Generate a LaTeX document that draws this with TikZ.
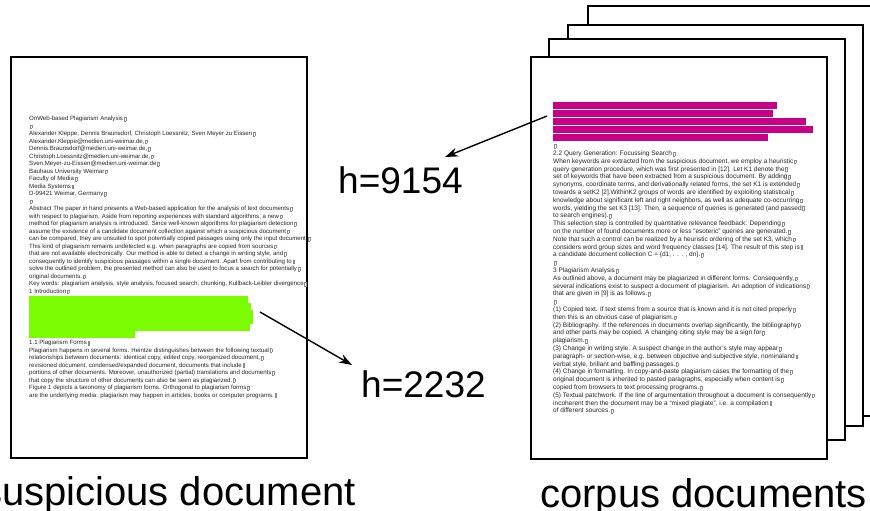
\documentclass[tikz,border=0pt]{standalone}
\usepackage{fontspec}
\setmainfont{Liberation Sans}
\usepackage{xcolor}
\usepackage{tikz}
\usetikzlibrary{arrows.meta,positioning}
\definecolor{hlgreen}{RGB}{124,252,0}
\definecolor{hlmagenta}{RGB}{200,0,135}
\newcommand\eolmark{\hspace{0.12em}{\color{black!45}\setlength\fboxsep{0pt}\setlength\fboxrule{0.25pt}\fbox{\rule{0pt}{3.4pt}\rule{1.6pt}{0pt}}}}
\tikzset{
  sheet/.style    = {draw, line width=1.8pt, fill=white},
  bodytext/.style = {anchor=north west, inner sep=0pt, align=left, text=black!85},
  suspfont/.style = {font=\fontsize{6.1}{7.5}\selectfont},
  corpfont/.style = {font=\fontsize{6.5}{7.8}\selectfont},
  pointer/.style  = {-{Stealth[length=13pt,width=9pt]}, line width=1.4pt},
  hlabel/.style   = {inner sep=0pt, font=\fontsize{37}{37}\selectfont},
  doclabel/.style = {inner sep=0pt, font=\fontsize{40}{40}\selectfont},
}

\begin{document}
\begin{tikzpicture}[x=1pt, y=-1pt]
  \clip (0,0) rectangle (870,511);
  % corpus stack, back to front
  \draw[sheet] (588,6) rectangle (900,416);
  \draw[sheet] (568,25) rectangle (863,426);
  \draw[sheet] (549,39) rectangle (845,440);
  \draw[sheet] (531,57) rectangle (827,459);
  % suspicious page
  \draw[sheet] (11,57) rectangle (307,458);

  \node[bodytext, suspfont] (susptop) at (29,116.1) {%
OnWeb-based Plagiarism Analysis\eolmark\\
\eolmark\\
Alexander Kleppe, Dennis Braunsdorf, Christoph Loessnitz, Sven Meyer zu Eissen\eolmark\\
Alexander.Kleppe@medien.uni-weimar.de,\eolmark\\
Dennis.Braunsdorf@medien.uni-weimar.de,\eolmark\\
Christoph.Loessnitz@medien.uni-weimar.de,\eolmark\\
Sven.Meyer-zu-Eissen@medien.uni-weimar.de\eolmark\\
Bauhaus University Weimar\eolmark\\
Faculty of Media\eolmark\\
Media Systems\eolmark\\
D-99421 Weimar, Germany\eolmark\\
\eolmark\\
Abstract The paper in hand presents a Web-based application for the analysis of text documents\eolmark\\
with respect to plagiarism. Aside from reporting experiences with standard algorithms, a new\eolmark\\
method for plagiarism analysis is introduced. Since well-known algorithms for plagiarism detection\eolmark\\
assume the existence of a candidate document collection against which a suspicious document\eolmark\\
can be compared, they are unsuited to spot potentially copied passages using only the input document.\eolmark\\
This kind of plagiarism remains undetected e.g. when paragraphs are copied from sources\eolmark\\
that are not available electronically. Our method is able to detect a change in writing style, and\eolmark\\
consequently to identify suspicious passages within a single document. Apart from contributing to\eolmark\\
solve the outlined problem, the presented method can also be used to focus a search for potentially\eolmark\\
original documents.\eolmark\\
Key words: plagiarism analysis, style analysis, focused search, chunking, Kullback-Leibler divergence\eolmark\\
1 Introduction\eolmark};

  \foreach \y/\xe in {296/248, 303/251, 310/253, 317/253, 324/250, 331/135}
    \fill[hlgreen] (29,\y) rectangle (\xe,\y+6.5);

  \node[bodytext, suspfont] (suspbottom) at (29,340) {%
1.1 Plagiarism Forms\eolmark\\
Plagiarism happens in several forms. Heintze distinguishes between the following textual\eolmark\\
relationships between documents: identical copy, edited copy, reorganized document,\eolmark\\
revisioned document, condensed/expanded document, documents that include\eolmark\\
portions of other documents. Moreover, unauthorized (partial) translations and documents\eolmark\\
that copy the structure of other documents can also be seen as plagiarized.\eolmark\\
Figure 1 depicts a taxonomy of plagiarism forms. Orthogonal to plagiarism forms\eolmark\\
are the underlying media: plagiarism may happen in articles, books or computer programs.\eolmark};

  \foreach \y/\xe in {102/777, 110/773, 118/806, 126/813, 134/768}
    \fill[hlmagenta] (553,\y) rectangle (\xe,\y+7);

  \node[bodytext, corpfont] (corptext) at (553,142.8) {%
\rule{0pt}{4.7pt}\eolmark\\
2.2 Query Generation: Focussing Search\eolmark\\
When keywords are extracted from the suspicious document, we employ a heuristic\eolmark\\
query generation procedure, which was first presented in [12]. Let K1 denote the\eolmark\\
set of keywords that have been extracted from a suspicious document. By adding\eolmark\\
synonyms, coordinate terms, and derivationally related forms, the set K1 is extended\eolmark\\
towards a setK2 [2].WithinK2 groups of words are identified by exploiting statistical\eolmark\\
knowledge about significant left and right neighbors, as well as adequate co-occurring\eolmark\\
words, yielding the set K3 [13]. Then, a sequence of queries is generated (and passed\eolmark\\
to search engines).\eolmark\\
This selection step is controlled by quantitative relevance feedback: Depending\eolmark\\
on the number of found documents more or less “esoteric” queries are generated.\eolmark\\
Note that such a control can be realized by a heuristic ordering of the set K3, which\eolmark\\
considers word group sizes and word frequency classes [14]. The result of this step is\eolmark\\
a candidate document collection C = \{d1, . . . , dn\}.\eolmark\\
\eolmark\\
3 Plagiarism Analysis\eolmark\\
As outlined above, a document may be plagiarized in different forms. Consequently,\eolmark\\
several indications exist to suspect a document of plagiarism. An adoption of indications\eolmark\\
that are given in [9] is as follows.\eolmark\\
\eolmark\\
(1) Copied text. If text stems from a source that is known and it is not cited properly\eolmark\\
then this is an obvious case of plagiarism.\eolmark\\
(2) Bibliography. If the references in documents overlap significantly, the bibliography\eolmark\\
and other parts may be copied. A changing citing style may be a sign for\eolmark\\
plagiarism.\eolmark\\
(3) Change in writing style. A suspect change in the author’s style may appear\eolmark\\
paragraph- or section-wise, e.g. between objective and subjective style, nominaland\eolmark\\
verbal style, brillant and baffling passages.\eolmark\\
(4) Change in formatting. In copy-and-paste plagiarism cases the formatting of the\eolmark\\
original document is inherited to pasted paragraphs, especially when content is\eolmark\\
copied from browsers to text processing programs.\eolmark\\
(5) Textual patchwork. If the line of argumentation throughout a document is consequently\eolmark\\
incoherent then the document may be a “mixed plagiate”, i.e. a compilation\eolmark\\
of different sources.\eolmark};

  % hash labels
  \node[hlabel, anchor=base west] (hcorp) at (338,193) {h=9154};
  \node[hlabel, anchor=base west] (hsusp) at (361,397) {h=2232};
  \node[doclabel, anchor=base west] (lblsusp) at (-18,505) {suspicious document};
  \node[doclabel, anchor=base west] (lblcorp) at (540,507) {corpus documents};

  \coordinate (magsrc) at (547,116);
  \coordinate (greensrc) at (260,312);
  \coordinate (tipcorp) at (445,157);
  \coordinate (tipsusp) at (352,365);
  \draw[pointer] (magsrc) -- (tipcorp);
  \draw[pointer] (greensrc) -- (tipsusp);
\end{tikzpicture}
\end{document}
